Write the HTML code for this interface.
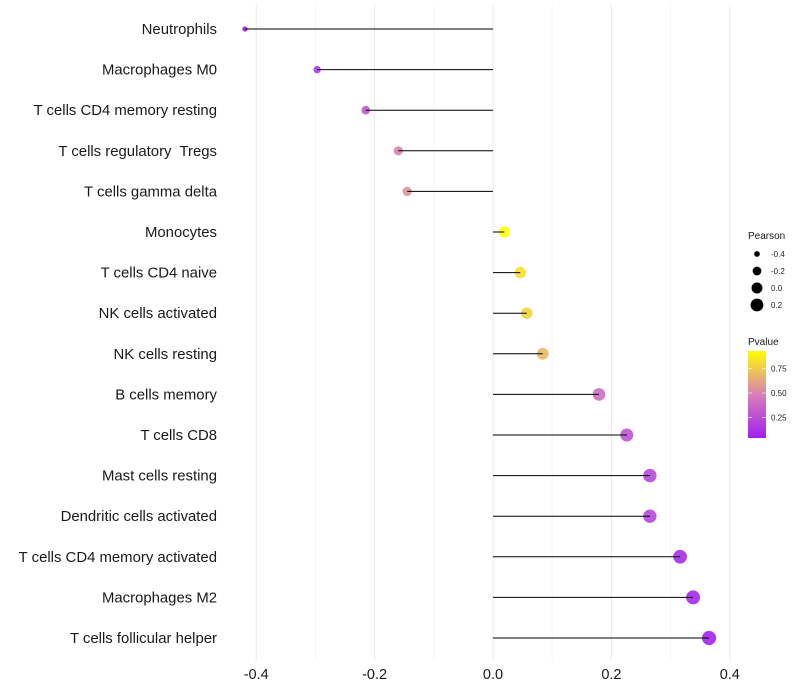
<!DOCTYPE html>
<html><head><meta charset="utf-8"><style>
body{margin:0;background:#fff;}
svg{display:block;font-family:"Liberation Sans",sans-serif;}
text{white-space:pre;}
</style></head><body>
<svg id="chart" width="800" height="700"></svg>
<script>
const categories=["Neutrophils","Macrophages M0","T cells CD4 memory resting","T cells regulatory  Tregs","T cells gamma delta","Monocytes","T cells CD4 naive","NK cells activated","NK cells resting","B cells memory","T cells CD8","Mast cells resting","Dendritic cells activated","T cells CD4 memory activated","Macrophages M2","T cells follicular helper"];
const pearson=[-0.419,-0.297,-0.215,-0.160,-0.145,0.019,0.046,0.057,0.084,0.179,0.226,0.265,0.265,0.316,0.338,0.365];
const pvalues=[0.05,0.15,0.30,0.50,0.55,0.93,0.82,0.78,0.68,0.40,0.28,0.22,0.22,0.10,0.08,0.06];
const xTicks=[-0.4,-0.2,0.0,0.2,0.4];
const xMinor=[-0.3,-0.1,0.1,0.3];
const sizeLegend=[-0.4,-0.2,0.0,0.2];
const pTicks=[0.25,0.50,0.75];

const NS="http://www.w3.org/2000/svg";
const svg=document.getElementById('chart');
const x=v=>493+v*592;
const y=i=>29+i*40.6;
const r=v=>Math.sqrt(Math.max(2.5,30+55*v));
const py=p=>438-(p-0.04)/0.89*87;
function lerp(a,b,t){return a.map((c,k)=>Math.round(c+(b[k]-c)*t));}
function pcol(p){const t=Math.min(1,Math.max(0,(p-0.04)/0.89));
 const s=[[160,32,240],[215,128,182],[255,255,0]];
 const c=t<0.5?lerp(s[0],s[1],t/0.5):lerp(s[1],s[2],(t-0.5)/0.5);
 return `rgb(${c[0]},${c[1]},${c[2]})`;}
function mk(tag,attrs,parent){const e=document.createElementNS(NS,tag);for(const k in attrs)e.setAttribute(k,attrs[k]);(parent||svg).appendChild(e);return e;}

xMinor.concat(xTicks).forEach(v=>{
 const g=mk('line',{x1:x(v),x2:x(v),y1:5,y2:660,stroke:xTicks.includes(v)?'#ebebeb':'#f3f3f3','stroke-width':xTicks.includes(v)?1:0.8});
 
 
});
xTicks.forEach(v=>{
 const t=mk('text',{x:x(v),y:679,'text-anchor':'middle','font-size':14.5,fill:'#1a1a1a'});
 t.textContent=v.toFixed(1);
 
 
});
categories.forEach((c,i)=>{
 const t=mk('text',{x:217,y:y(i)+5,'text-anchor':'end','font-size':14.9,fill:'#1a1a1a'});
 t.textContent=c;
 
 
 const d=mk('circle',{cx:x(pearson[i]),cy:y(i),r:r(pearson[i]),fill:pcol(pvalues[i]),'fill-opacity':0.9});
 
 
 const l=mk('line',{x1:x(0),x2:x(pearson[i]),y1:y(i),y2:y(i),stroke:'#000','stroke-width':1});
 
 
});
const lt=mk('text',{x:748,y:239,'font-size':10,fill:'#1a1a1a'});lt.textContent='Pearson';


sizeLegend.forEach((v,k)=>{
 const cy=254+k*17;
 const c=mk('circle',{cx:757,cy:cy,r:r(v),fill:'#000'});
 
 
 const t=mk('text',{x:771,y:cy+3,'font-size':8,fill:'#1a1a1a'});t.textContent=v.toFixed(1);
 
 
});
const ct=mk('text',{x:748,y:345,'font-size':10,fill:'#1a1a1a'});ct.textContent='Pvalue';


const defs=mk('defs',{});
const grad=mk('linearGradient',{id:'pg',x1:0,y1:1,x2:0,y2:0},defs);
[[0,'#a020f0'],[0.5,'#d780b6'],[1,'#ffff00']].forEach(s=>mk('stop',{offset:s[0],'stop-color':s[1]},grad));
const bar=mk('rect',{x:748,y:351,width:18,height:87,fill:'url(#pg)'});


pTicks.forEach(p=>{
 mk('line',{x1:748,x2:752,y1:py(p),y2:py(p),stroke:'#fff','stroke-opacity':0.6});
 mk('line',{x1:762,x2:766,y1:py(p),y2:py(p),stroke:'#fff','stroke-opacity':0.6});
 const t=mk('text',{x:771,y:py(p)+3,'font-size':8,fill:'#1a1a1a'});t.textContent=p.toFixed(2);
 
 
});
</script>
</body></html>
